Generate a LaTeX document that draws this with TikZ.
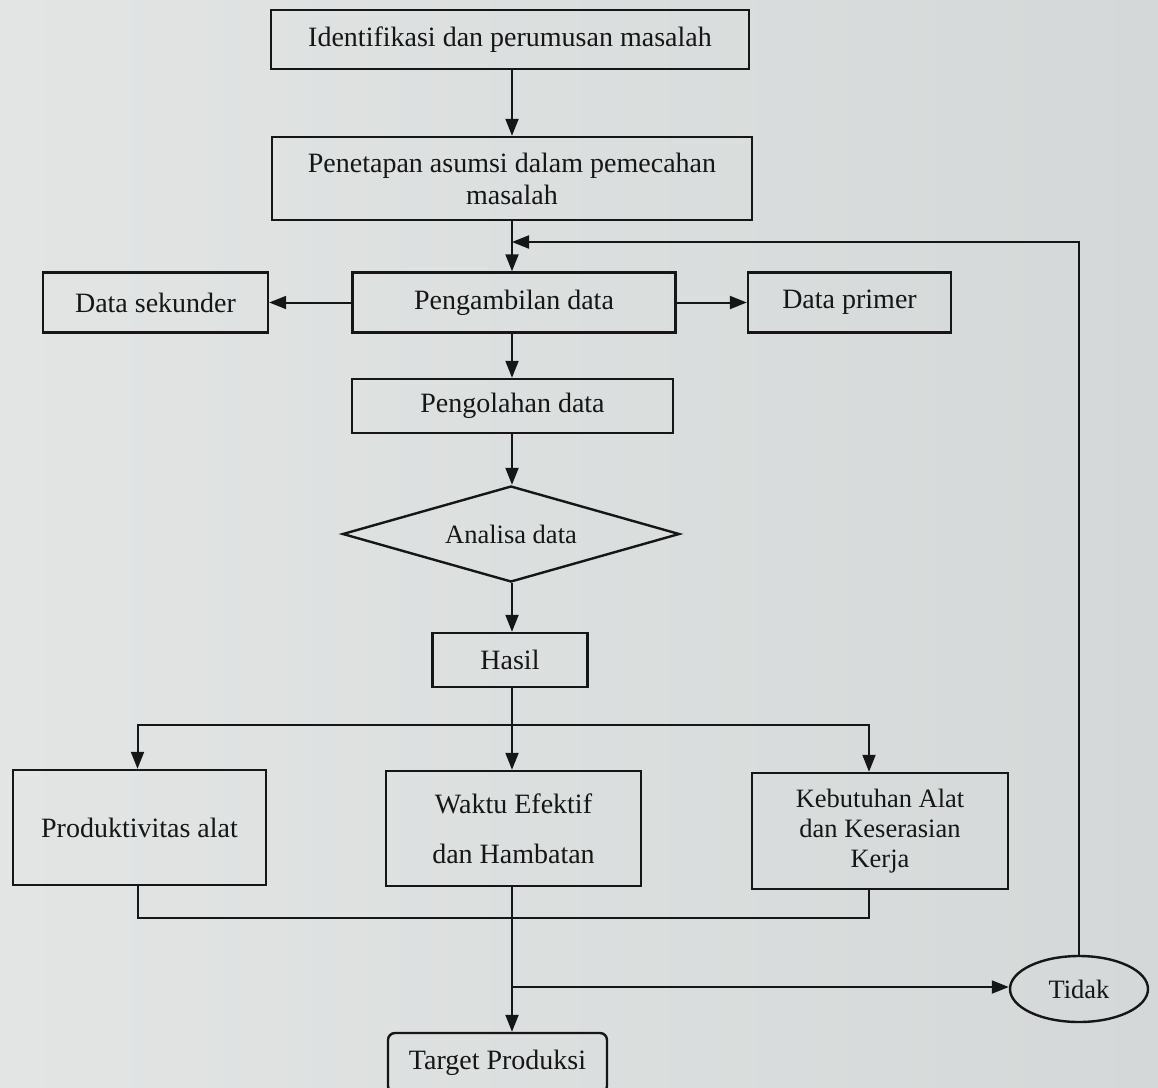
\documentclass[tikz,border=0pt]{standalone}
\usepackage{fontspec}
\setmainfont{Liberation Serif}
\usetikzlibrary{arrows.meta,shapes.geometric}
\definecolor{bgl}{RGB}{226,229,228}
\definecolor{bgr}{RGB}{212,216,216}
\definecolor{ink}{RGB}{22,22,22}
\tikzset{
  box/.style={draw=ink, line width=2.4pt, rectangle, inner sep=0pt, align=center, text=ink,
    font=\fontsize{28}{32}\selectfont},
  smallbox/.style={box, font=\fontsize{26.5}{30}\selectfont},
  conn/.style={draw=ink, line width=2pt},
  arr/.style={conn, -{Triangle[length=17pt,width=13pt]}}
}
\begin{document}
\begin{tikzpicture}[x=1pt,y=-1pt]
\shade[left color=bgl, right color=bgr] (0,0) rectangle (1158,1087);
\useasboundingbox (0,0) rectangle (1158,1087);

\node[box, minimum width=478pt, minimum height=59pt] (ident) at (510,39.5) {Identifikasi dan perumusan masalah};
\node[box, minimum width=480pt, minimum height=83pt] (asumsi) at (512,178.5) {Penetapan asumsi dalam pemecahan\\masalah};
\node[box, minimum width=323pt, minimum height=60pt] (ambil) at (514,302.5) {Pengambilan data};
\node[box, minimum width=225pt, minimum height=60pt] (sek) at (155.5,302.5) {Data sekunder};
\node[box, minimum width=203pt, minimum height=60pt] (prim) at (849.5,302.5) {Data primer};
\node[box, minimum width=321pt, minimum height=54pt] (olah) at (512.5,406) {Pengolahan data};
\node[draw=ink, line width=2.4pt, diamond, aspect=3.51, inner sep=0pt, minimum width=337pt, minimum height=96pt,
  text=ink, font=\fontsize{26.5}{30}\selectfont] (analisa) at (511,534) {Analisa data};
\node[box, minimum width=155pt, minimum height=54pt] (hasil) at (510,660) {Hasil};
\node[box, minimum width=253pt, minimum height=115pt] (prod) at (139.5,827.5) {Produktivitas alat};
\node[box, minimum width=255pt, minimum height=115pt, font=\fontsize{28}{50}\selectfont] (waktu) at (513.5,828.5) {Waktu Efektif\\dan Hambatan};
\node[smallbox, minimum width=256pt, minimum height=116pt] (keb) at (880,831) {Kebutuhan Alat\\dan Keserasian\\Kerja};
\node[draw=ink, line width=2.4pt, ellipse, inner sep=0pt, minimum width=138pt, minimum height=66pt,
  text=ink, font=\fontsize{26.5}{30}\selectfont] (tidak) at (1079,989) {Tidak};
\node[box, rounded corners=7pt, minimum width=219pt, minimum height=60pt] (target) at (497.5,1063) {Target Produksi};

\coordinate (fb) at (512,242);
\coordinate (br) at (512,725);
\coordinate (br2) at (512,987);

\draw[arr] (ident.south -| 512,0) -- (asumsi.north -| 512,0);
\draw[conn] (asumsi.south -| 512,0) -- (fb);
\draw[arr] (fb) -- (ambil.north -| 512,0);
\draw[arr] (tidak.north) |- (fb);
\draw[arr] (ambil.west) -- (sek.east);
\draw[arr] (ambil.east) -- (prim.west);
\draw[arr] (ambil.south -| 512,0) -- (olah.north -| 512,0);
\draw[arr] (olah.south -| 512,0) -- (analisa.north -| 512,0);
\draw[arr] (analisa.south -| 512,0) -- (hasil.north -| 512,0);
\draw[conn] (hasil.south -| 512,0) -- (br);
\draw[arr] (br) -- (waktu.north -| 512,0);
\draw[arr] (br) -| ([xshift=-2pt]prod.north);
\draw[arr] (br) -| ([xshift=-11pt]keb.north);
\draw[conn] ([xshift=-2pt]prod.south) |- (512,918) -| ([xshift=-11pt]keb.south);
\draw[arr] (waktu.south -| 512,0) -- (target.north -| 512,0);
\draw[arr] (br2) -- (tidak.west |- br2);
\end{tikzpicture}
\end{document}
